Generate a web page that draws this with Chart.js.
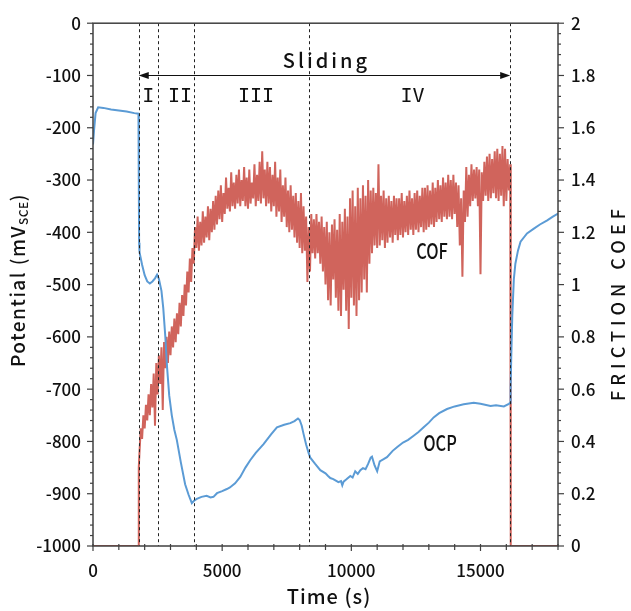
<!DOCTYPE html>
<html>
<head>
<meta charset="utf-8">
<script src="https://cdn.jsdelivr.net/npm/chart.js@4/dist/chart.umd.min.js"></script>
<style>
  html, body { margin: 0; padding: 0; background: #fff; }
</style>
</head>
<body>
<canvas id="chart" width="631" height="611"></canvas>
<script>
/* -------------------------------------------------------------
 * 1. DATA
 * ------------------------------------------------------------- */
// OCP (mV vs SCE), left axis
const ocpTime = [
	0, 40, 100, 200, 400, 700, 1000, 1300, 1600, 1760,
	1772, 1785, 1800, 1900, 2000, 2100, 2200, 2300, 2400, 2480,
	2550, 2650, 2720, 2800, 2870, 2950, 3050, 3150, 3244, 3400,
	3566, 3700, 3826, 3900, 4019, 4200, 4400, 4550, 4663, 4800,
	5000, 5182, 5300, 5500, 5700, 5900, 6085, 6300, 6602, 6900,
	7120, 7400, 7636, 7800, 7934, 8000, 8080, 8152, 8250, 8345,
	8411, 8600, 8798, 9000, 9100, 9186, 9300, 9400, 9500, 9600,
	9650, 9700, 9800, 9961, 10050, 10150, 10250, 10349, 10450, 10550,
	10650, 10750, 10800, 10900, 11000, 11100, 11250, 11380, 11600, 11767,
	12000, 12200, 12412, 12600, 12800, 13000, 13187, 13400, 13704, 14000,
	14350, 14737, 15000, 15388, 15600, 15904, 16100, 16150, 16165, 16190,
	16230, 16290, 16350, 16450, 16550, 16800, 17066, 17300, 17583, 17800,
	18000
];
const ocpValues = [
	-232, -205, -172, -161, -162, -165, -167, -169, -172, -173,
	-300, -420, -438, -462, -482, -494, -498, -494, -488, -481,
	-489, -512, -545, -600, -660, -712, -750, -778, -797, -840,
	-882, -902, -918, -914, -910, -906, -904, -907, -906, -899,
	-895, -891, -888, -880, -868, -850, -836, -822, -805, -786,
	-773, -768, -765, -761, -756, -759, -770, -786, -806, -822,
	-831, -843, -855, -861, -866, -870, -872, -875, -878, -876,
	-884, -877, -873, -866, -869, -857, -862, -855, -851, -853,
	-843, -831, -829, -846, -857, -838, -834, -830, -818, -811,
	-802, -797, -789, -782, -773, -764, -754, -746, -738, -733,
	-729, -726, -728, -732, -731, -733, -728, -726, -700, -640,
	-560, -490, -460, -435, -418, -402, -393, -385, -377, -370,
	-364
];

// Friction coefficient, right axis
const cofLeadTime = [0, 1765, 1772];
const cofLeadValues = [0, 0, 0.30];
const cofStart = 1800;
const cofStep = 50;
const cofValues = [
	0.36, 0.45, 0.41, 0.50, 0.45, 0.54, 0.48, 0.58, 0.50, 0.62, 0.53, 0.66, 0.46, 0.70, 0.58, 0.73, 0.62, 0.76, 0.52, 0.78,
	0.68, 0.80, 0.70, 0.82, 0.73, 0.84, 0.76, 0.87, 0.78, 0.89, 0.81, 0.93, 0.84, 0.96, 0.88, 1.00, 0.92, 1.05, 0.97, 1.10,
	1.01, 1.14, 1.08, 1.22, 1.14, 1.26, 1.13, 1.24, 1.15, 1.28, 1.16, 1.26, 1.18, 1.30, 1.17, 1.29, 1.20, 1.32, 1.21, 1.34,
	1.23, 1.36, 1.25, 1.38, 1.24, 1.35, 1.27, 1.41, 1.29, 1.37, 1.28, 1.43, 1.30, 1.39, 1.29, 1.42, 1.31, 1.44, 1.30, 1.40,
	1.32, 1.45, 1.30, 1.41, 1.29, 1.44, 1.31, 1.39, 1.33, 1.46, 1.30, 1.42, 1.32, 1.47, 1.31, 1.51, 1.33, 1.44, 1.30, 1.47,
	1.31, 1.45, 1.28, 1.42, 1.30, 1.47, 1.26, 1.41, 1.28, 1.44, 1.24, 1.38, 1.26, 1.41, 1.22, 1.36, 1.20, 1.38, 1.21, 1.34,
	1.18, 1.35, 1.16, 1.32, 1.14, 1.35, 1.12, 1.30, 1.13, 1.26, 1.01, 1.22, 1.05, 1.27, 1.12, 1.25, 1.10, 1.27, 1.12, 1.24,
	1.08, 1.26, 1.05, 1.22, 1.00, 1.24, 0.94, 1.20, 0.92, 1.23, 1.02, 1.25, 0.95, 1.21, 0.90, 1.27, 0.88, 1.24, 0.98, 1.29,
	0.90, 1.26, 0.83, 1.33, 0.95, 1.36, 0.92, 1.30, 0.88, 1.37, 0.94, 1.33, 0.97, 1.38, 1.02, 1.34, 0.97, 1.40, 1.08, 1.36,
	1.12, 1.37, 1.15, 1.35, 1.14, 1.46, 1.15, 1.34, 1.17, 1.36, 1.14, 1.33, 1.16, 1.34, 1.18, 1.32, 1.16, 1.34, 1.19, 1.33,
	1.17, 1.33, 1.19, 1.35, 1.18, 1.32, 1.20, 1.34, 1.19, 1.36, 1.21, 1.33, 1.19, 1.35, 1.21, 1.36, 1.20, 1.34, 1.22, 1.37,
	1.20, 1.37, 1.21, 1.38, 1.22, 1.36, 1.23, 1.39, 1.22, 1.37, 1.24, 1.40, 1.25, 1.38, 1.24, 1.41, 1.26, 1.39, 1.25, 1.42,
	1.26, 1.40, 1.25, 1.42, 1.27, 1.39, 1.22, 1.38, 1.15, 1.33, 1.03, 1.36, 1.24, 1.45, 1.26, 1.42, 1.30, 1.46, 1.32, 1.44,
	1.33, 1.45, 1.30, 1.44, 1.04, 1.43, 1.32, 1.47, 1.34, 1.49, 1.32, 1.50, 1.33, 1.48, 1.35, 1.51, 1.33, 1.52, 1.32, 1.50,
	1.34, 1.53, 1.30, 1.52, 1.32, 1.48, 1.36, 1.46
];
const cofTailTime = [16170, 16172, 18000];
const cofTailValues = [1.42, 0, 0];

// Sliding stage boundaries (s) and labels
const stageLines = [1770, 2500, 3900, 8380, 16150];
const stageLabels = ['I', 'II', 'III', 'IV'];
const stageLabelTime = [2141, 3368, 6310, 12368];

// Axis ticks
const timeTicks = [0, 5000, 10000, 15000];
const potentialTicks = [-1000, -900, -800, -700, -600, -500, -400, -300, -200, -100, 0];
const cofTicks = [0, 0.2, 0.4, 0.6, 0.8, 1, 1.2, 1.4, 1.6, 1.8, 2];

/* -------------------------------------------------------------
 * 2. SERIES
 * ------------------------------------------------------------- */
const ocpPoints = ocpTime.map( ( t, i ) => ( { x: t, y: ocpValues[ i ] } ) );
const cofPoints = [
	...cofLeadTime.map( ( t, i ) => ( { x: t, y: cofLeadValues[ i ] } ) ),
	...cofValues.map( ( v, i ) => ( { x: cofStart + i * cofStep, y: v } ) ),
	...cofTailTime.map( ( t, i ) => ( { x: t, y: cofTailValues[ i ] } ) )
];

const BLUE = '#5b9bd5';
const RED = '#d0645c';
const AXIS = '#404040';
const SANS = '"Noto Sans CJK JP", "Noto Sans", sans-serif';
const MONO = '"DejaVu Sans Mono", monospace';

/* -------------------------------------------------------------
 * 3. DRAW HELPERS
 * ------------------------------------------------------------- */
function text( ctx, str, x, y, opts ) {
	const o = Object.assign( { size: 18, family: SANS, spacing: 0, scaleX: 1, rotate: 0, weight: 500 }, opts );
	ctx.save();
	ctx.translate( x, y );
	if ( o.rotate ) ctx.rotate( o.rotate );
	ctx.scale( o.scaleX, 1 );
	ctx.font = o.weight + ' ' + o.size + 'px ' + o.family;
	ctx.letterSpacing = o.spacing + 'px';
	ctx.fillStyle = '#111';
	ctx.textBaseline = 'middle';
	ctx.textAlign = 'left';
	const w = ctx.measureText( str ).width - o.spacing;
	ctx.fillText( str, -w / 2, 0 );
	ctx.restore();
}

function seg( ctx, x1, y1, x2, y2 ) {
	ctx.beginPath();
	ctx.moveTo( x1, y1 );
	ctx.lineTo( x2, y2 );
	ctx.stroke();
}

const decorations = {
	id: 'decorations',
	afterDatasetsDraw( chart ) {
		const { ctx, chartArea: a, scales } = chart;
		const sx = scales.x;
		const sy = scales.y;
		const sy2 = scales.y2;
		ctx.save();

		// stage boundaries
		ctx.strokeStyle = '#222';
		ctx.lineWidth = 1;
		ctx.setLineDash( [ 3, 3 ] );
		stageLines.forEach( ( t ) => {
			const x = Math.round( sx.getPixelForValue( t ) ) + 0.5;
			seg( ctx, x, a.top, x, a.bottom );
		} );
		ctx.setLineDash( [] );

		// "Sliding" arrow
		const ay = Math.round( sy.getPixelForValue( -100 ) ) + 0.5;
		const ax1 = sx.getPixelForValue( stageLines[ 0 ] );
		const ax2 = sx.getPixelForValue( stageLines[ stageLines.length - 1 ] );
		ctx.strokeStyle = '#111';
		seg( ctx, ax1 + 4, ay, ax2 - 4, ay );
		ctx.fillStyle = '#111';
		ctx.beginPath();
		ctx.moveTo( ax1, ay );
		ctx.lineTo( ax1 + 10, ay - 3.5 );
		ctx.lineTo( ax1 + 10, ay + 3.5 );
		ctx.closePath();
		ctx.fill();
		ctx.beginPath();
		ctx.moveTo( ax2, ay );
		ctx.lineTo( ax2 - 10, ay - 3.5 );
		ctx.lineTo( ax2 - 10, ay + 3.5 );
		ctx.closePath();
		ctx.fill();

		// frame
		ctx.strokeStyle = AXIS;
		ctx.lineWidth = 1.5;
		ctx.strokeRect( a.left, a.top, a.right - a.left, a.bottom - a.top );

		// tick marks
		ctx.lineWidth = 1.2;
		for ( let v = -1000; v <= 0; v += 20 ) {
			const y = sy.getPixelForValue( v );
			seg( ctx, a.left - ( v % 100 === 0 ? 6 : 3 ), y, a.left, y );
		}
		for ( let k = 0; k <= 50; k++ ) {
			const y = sy2.getPixelForValue( k * 0.04 );
			seg( ctx, a.right, y, a.right + ( k % 5 === 0 ? 6 : 3 ), y );
		}
		for ( let t = 0; t <= 18000; t += 1000 ) {
			const x = sx.getPixelForValue( t );
			seg( ctx, x, a.bottom - 2, x, a.bottom + ( t % 5000 === 0 ? 5 : 4 ) );
		}
		ctx.restore();

		// annotations
		const labelY = sy.getPixelForValue( -141 );
		text( ctx, 'Sliding', sx.getPixelForValue( 8980 ), sy.getPixelForValue( -71 ), { size: 20, spacing: 3 } );
		stageLabels.forEach( ( s, i ) => {
			text( ctx, s, sx.getPixelForValue( stageLabelTime[ i ] ), labelY, { size: 20, family: MONO, weight: 400 } );
		} );
		text( ctx, 'COF', sx.getPixelForValue( 13123 ), sy.getPixelForValue( -435 ), { size: 21, scaleX: 0.78 } );
		text( ctx, 'OCP', sx.getPixelForValue( 13432 ), sy.getPixelForValue( -803 ), { size: 21, scaleX: 0.78 } );

		// axis titles
		text( ctx, 'Time (s)', ( a.left + a.right ) / 2 + 3, 596, { size: 20, spacing: 1 } );
		text( ctx, 'FRICTION COEF', 618, 305, { size: 18, spacing: 5, rotate: -Math.PI / 2 } );

		// left title with subscript
		ctx.save();
		ctx.translate( 18, 280 );
		ctx.rotate( -Math.PI / 2 );
		ctx.fillStyle = '#111';
		ctx.textBaseline = 'middle';
		const big = '500 19px ' + SANS;
		const small = '500 12px ' + SANS;
		ctx.letterSpacing = '1.5px';
		ctx.font = big;
		const p1 = 'Potential (mV';
		const w1 = ctx.measureText( p1 ).width;
		ctx.font = small;
		ctx.letterSpacing = '0.5px';
		const w2 = ctx.measureText( 'SCE' ).width;
		ctx.font = big;
		ctx.letterSpacing = '1.5px';
		const w3 = ctx.measureText( ')' ).width;
		let x0 = -( w1 + w2 + w3 ) / 2;
		ctx.fillText( p1, x0, 0 );
		x0 += w1;
		ctx.font = small;
		ctx.letterSpacing = '0.5px';
		ctx.fillText( 'SCE', x0, 5 );
		x0 += w2;
		ctx.font = big;
		ctx.letterSpacing = '1.5px';
		ctx.fillText( ')', x0, 0 );
		ctx.restore();
	}
};

/* -------------------------------------------------------------
 * 4. CHART
 * ------------------------------------------------------------- */
const tickFont = { family: SANS, size: 17, weight: 500 };

new Chart( document.getElementById( 'chart' ), {
	type: 'line',
	data: {
		datasets: [
			{
				label: 'OCP',
				data: ocpPoints,
				yAxisID: 'y',
				borderColor: BLUE,
				borderWidth: 2,
				pointRadius: 0,
				tension: 0,
				order: 0
			},
			{
				label: 'COF',
				data: cofPoints,
				yAxisID: 'y2',
				borderColor: RED,
				borderWidth: 2,
				pointRadius: 0,
				tension: 0,
				order: 1
			}
		]
	},
	options: {
		responsive: false,
		animation: false,
		layout: { padding: { top: 15, right: 0, bottom: 0, left: 0 } },
		plugins: { legend: { display: false }, tooltip: { enabled: false } },
		scales: {
			x: {
				type: 'linear',
				min: 0,
				max: 18000,
				afterBuildTicks: ( s ) => { s.ticks = timeTicks.map( ( v ) => ( { value: v } ) ); },
				afterFit: ( s ) => { s.height = 65; },
				grid: { display: false, drawTicks: false },
				border: { display: false },
				ticks: { font: tickFont, color: '#111', padding: 14, maxRotation: 0, callback: ( v ) => String( v ) }
			},
			y: {
				position: 'left',
				min: -1000,
				max: 0,
				afterBuildTicks: ( s ) => { s.ticks = potentialTicks.map( ( v ) => ( { value: v } ) ); },
				afterFit: ( s ) => { s.width = 93; },
				grid: { display: false, drawTicks: false },
				border: { display: false },
				ticks: { font: tickFont, color: '#111', padding: 12, callback: ( v ) => String( v ) }
			},
			y2: {
				position: 'right',
				min: 0,
				max: 2,
				afterBuildTicks: ( s ) => { s.ticks = cofTicks.map( ( v ) => ( { value: v } ) ); },
				afterFit: ( s ) => { s.width = 73; },
				grid: { display: false, drawTicks: false },
				border: { display: false },
				ticks: { font: tickFont, color: '#111', padding: 13, callback: ( v ) => String( v ) }
			}
		}
	},
	plugins: [ decorations ]
} );
</script>
</body>
</html>
